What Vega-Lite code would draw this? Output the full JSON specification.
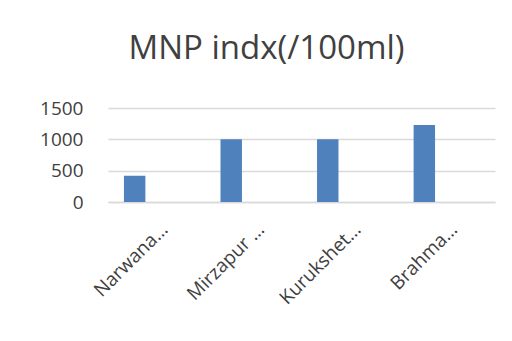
{
  "$schema": "https://vega.github.io/schema/vega-lite/v6.json",
  "width": 387,
  "height": 94,
  "autosize": "none",
  "padding": {"left": 108, "top": 108, "right": 17, "bottom": 139},
  "background": "white",
  "title": {
    "text": "MNP indx(/100ml)",
    "font": "Open Sans",
    "fontSize": 33,
    "fontWeight": "normal",
    "color": "#404040",
    "anchor": "middle",
    "frame": "group",
    "baseline": "alphabetic",
    "offset": 7,
    "dx": -35
  },
  "data": {
    "values": [
      {"site": "Narwana…", "mnp": 420},
      {"site": "Mirzapur …", "mnp": 1000},
      {"site": "Kurukshet…", "mnp": 1000},
      {"site": "Brahma…", "mnp": 1230}
    ]
  },
  "mark": {"type": "bar", "color": "#4f81bd"},
  "encoding": {
    "x": {
      "field": "site",
      "type": "nominal",
      "sort": null,
      "scale": {"paddingInner": 0.778, "paddingOuter": 0.393, "align": 0.21},
      "axis": {
        "title": null,
        "labelAngle": -45,
        "labelAlign": "right",
        "labelBaseline": "middle",
        "labelFont": "Open Sans",
        "labelFontSize": 19,
        "labelColor": "#404040",
        "labelOffset": 30,
        "labelPadding": 24,
        "labelLimit": 0,
        "ticks": false,
        "domain": true,
        "domainColor": "#d9d9d9",
        "domainWidth": 1.5
      }
    },
    "y": {
      "field": "mnp",
      "type": "quantitative",
      "scale": {"domain": [0, 1500]},
      "axis": {
        "title": null,
        "values": [0, 500, 1000, 1500],
        "format": "d",
        "labelFont": "Open Sans",
        "labelFontSize": 19,
        "labelColor": "#404040",
        "labelPadding": 25,
        "ticks": false,
        "domain": false,
        "grid": true,
        "gridColor": "#d9d9d9",
        "gridWidth": 1.5
      }
    }
  },
  "config": {"view": {"stroke": null}}
}
